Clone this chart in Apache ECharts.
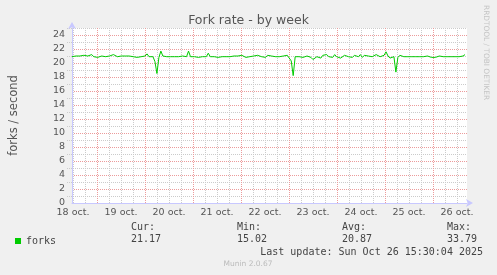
<!DOCTYPE html>
<html><head><meta charset="utf-8">
<script src="https://cdn.jsdelivr.net/npm/echarts@6/dist/echarts.min.js"></script>
<style>html,body{margin:0;padding:0;background:#f0f0f0}#c{width:497px;height:275px}</style>
</head><body><div id="c"></div>
<script>
// x values are hours after 18 oct. 00:00, one sample per hour
const startHour = 9;
const endHour = 209;
const yMax = 25;
const forks = [
20.9,20.8,21.0,20.9,21.0,20.9,21.1,20.9,21.0,20.8,21.2,20.9,21.0,20.8,20.9,21.0,20.9,20.9,20.8,21.0,
20.9,21.2,21.0,20.9,20.8,21.0,20.9,21.0,20.9,21.0,21.2,20.9,21.0,20.8,21.0,20.9,20.8,21.0,21.3,20.9,
21.0,20.9,20.2,18.5,20.8,21.7,21.0,20.9,20.9,20.9,20.9,20.8,20.9,20.8,20.9,20.9,21.0,20.9,20.9,21.7,
20.9,20.9,20.9,20.9,20.8,20.9,20.9,21.0,20.9,21.4,20.9,21.0,20.9,20.9,20.8,20.9,20.9,21.0,20.9,21.0,
20.9,20.8,21.0,20.9,21.0,20.9,21.1,20.9,20.8,21.0,20.9,21.1,21.0,20.9,21.1,21.0,20.9,21.0,20.8,21.1,
20.9,21.0,21.1,20.9,21.0,20.9,21.1,21.0,20.9,21.1,20.9,20.3,18.2,20.9,21.0,20.9,21.0,20.8,20.9,21.0,
21.2,20.8,20.5,20.4,20.9,21.0,20.7,21.1,20.9,21.2,20.9,21.0,20.8,21.2,20.9,21.0,20.7,20.9,21.1,21.2,
20.9,21.0,20.8,21.1,20.9,20.9,21.2,20.8,21.1,20.9,21.0,21.1,20.9,21.0,21.2,21.0,20.9,21.0,21.1,21.6,
21.0,20.7,20.8,20.9,18.7,20.8,21.1,20.9,20.9,21.0,20.9,20.8,20.9,21.0,20.9,20.9,20.9,21.0,20.9,20.9,
21.0,20.9,20.8,21.0,20.8,20.9,21.0,20.9,20.9,20.8,20.9,21.0,20.9,20.8,20.9,20.9,20.9,20.8,21.0,21.2
];
const dayLabels = ['18 oct.','19 oct.','20 oct.','21 oct.','22 oct.','23 oct.','24 oct.','25 oct.','26 oct.'];
const statNames = ['Cur:','Min:','Avg:','Max:'];
const statValues = ['21.17','15.02','20.87','33.79'];
const lastUpdate = 'Last update: Sun Oct 26 15:30:04 2025';

const seriesData = forks.map((v, i) => [startHour + i, v]);
const mono = 'DejaVu Sans Mono';
const sans = 'DejaVu Sans';
const statX = [131, 237, 342, 447];
const W = 497, H = 275;
const plotLeft = 67, plotRight = 30, plotTop = 28, plotBottom = 72;
const pxPerHour = (W - plotLeft - plotRight) / (endHour - startHour);
const pxPerUnit = (H - plotTop - plotBottom) / yMax;
const GRAY = '#cbcbcb', RED = '#ec9b9b';
const DOT = [1, 1];

// Helper grids share the plot's scales; their edges are moved so tick counting starts at a round value.
function gridFromX(minHour) {
  return { left: plotLeft - (startHour - minHour) * pxPerHour, right: plotRight, top: plotTop, bottom: plotBottom, show: false };
}
const grids = [
  { left: plotLeft, right: plotRight, top: plotTop, bottom: plotBottom, show: true, backgroundColor: '#ffffff', borderWidth: 0 },
  gridFromX(6),    // 1: gray lines at 06:00
  gridFromX(-12),  // 2: gray lines at 12:00 + day labels
  gridFromX(-6),   // 3: gray lines at 18:00
  gridFromX(0),    // 4: red lines at 00:00
  { left: plotLeft, right: plotRight, top: plotTop, bottom: plotBottom - pxPerUnit, show: false } // 5: gray odd horizontal lines
];

const hiddenAxis = (gi) => ({ gridIndex: gi, type: 'value', show: false, splitLine: { show: false } });
const vLines = (gi, min, color) => ({
  gridIndex: gi, type: 'value', min: min, max: endHour, interval: 24,
  axisLine: { show: false }, axisTick: { show: false }, axisLabel: { show: false },
  splitLine: { show: true, showMinLine: false, showMaxLine: false, lineStyle: { type: DOT, width: 1, color: color } }
});

const graphics = [
  { type: 'text', left: 482, top: 5, rotation: -Math.PI / 2, originX: 0, originY: 0,
    style: { text: 'RRDTOOL / TOBI OETIKER', font: '7.4px ' + sans, fill: '#c4c4c4' } },
  { type: 'text', x: 248, y: 264, style: { text: 'Munin 2.0.67', font: '7.5px ' + sans, fill: '#bbbbbb', textAlign: 'center', textVerticalAlign: 'middle' } },
  { type: 'text', x: 483, y: 252, style: { text: lastUpdate, font: '10px ' + mono, fill: '#444', textAlign: 'right', textVerticalAlign: 'middle' } }
];
statNames.forEach((n, i) => {
  graphics.push({ type: 'text', x: statX[i], y: 227, style: { text: n, font: '10px ' + mono, fill: '#444', textVerticalAlign: 'middle' } });
  graphics.push({ type: 'text', x: statX[i], y: 239.5, style: { text: statValues[i], font: '10px ' + mono, fill: '#444', textVerticalAlign: 'middle' } });
});

const axisLineStyle = { show: true, symbol: ['none', 'arrow'], symbolSize: [6, 7], symbolOffset: [0, 6], lineStyle: { color: '#c8c8ff', width: 1 } };

const day12 = vLines(2, -12, GRAY);
day12.axisLabel = { show: true, showMinLabel: false, showMaxLabel: false, formatter: v => dayLabels[(v - 12) / 24] || '',
  fontFamily: sans, fontSize: 9.5, color: '#555', margin: 5 };

const chart = echarts.init(document.getElementById('c'), null, { renderer: 'canvas' });
chart.setOption({
  backgroundColor: '#f0f0f0',
  animation: false,
  title: { text: 'Fork rate - by week', left: 'center', top: 9,
    textStyle: { fontFamily: sans, fontSize: 12.5, fontWeight: 'normal', color: '#555' } },
  legend: { left: 10, top: 231, itemWidth: 6, itemHeight: 6, itemGap: 6, icon: 'rect',
    textStyle: { fontFamily: mono, fontSize: 10, color: '#444' }, data: ['forks'] },
  grid: grids,
  xAxis: [
    { gridIndex: 0, type: 'value', min: startHour, max: endHour, axisLine: axisLineStyle,
      axisTick: { show: false }, axisLabel: { show: false }, splitLine: { show: false } },
    vLines(1, 6, GRAY),
    day12,
    vLines(3, -6, GRAY),
    vLines(4, 0, RED),
    hiddenAxis(5)
  ],
  yAxis: [
    { gridIndex: 0, type: 'value', min: 0, max: yMax, interval: 2,
      name: 'forks / second', nameLocation: 'middle', nameGap: 52, nameRotate: 90,
      nameTextStyle: { fontFamily: sans, fontSize: 11.5, color: '#555' },
      axisLine: axisLineStyle, axisTick: { show: false },
      axisLabel: { fontFamily: sans, fontSize: 9.5, color: '#555', margin: 7, showMaxLabel: false, formatter: v => (v % 2 === 0 ? String(v) : '') },
      splitLine: { show: true, showMinLine: false, showMaxLine: false, lineStyle: { type: DOT, width: 1, color: RED } } },
    Object.assign(hiddenAxis(1), { min: 0, max: yMax }),
    Object.assign(hiddenAxis(2), { min: 0, max: yMax }),
    Object.assign(hiddenAxis(3), { min: 0, max: yMax }),
    Object.assign(hiddenAxis(4), { min: 0, max: yMax }),
    { gridIndex: 5, type: 'value', min: -1, max: yMax, interval: 2,
      axisLine: { show: false }, axisTick: { show: false }, axisLabel: { show: false },
      splitLine: { show: true, showMinLine: false, lineStyle: { type: DOT, width: 1, color: GRAY } } }
  ],
  series: [{
    name: 'forks', type: 'line', xAxisIndex: 0, yAxisIndex: 0, data: seriesData, showSymbol: false, symbol: 'none', z: 5,
    lineStyle: { color: '#00cc00', width: 1 }, itemStyle: { color: '#00cc00' }
  }],
  graphic: graphics
});
</script>
</body></html>
